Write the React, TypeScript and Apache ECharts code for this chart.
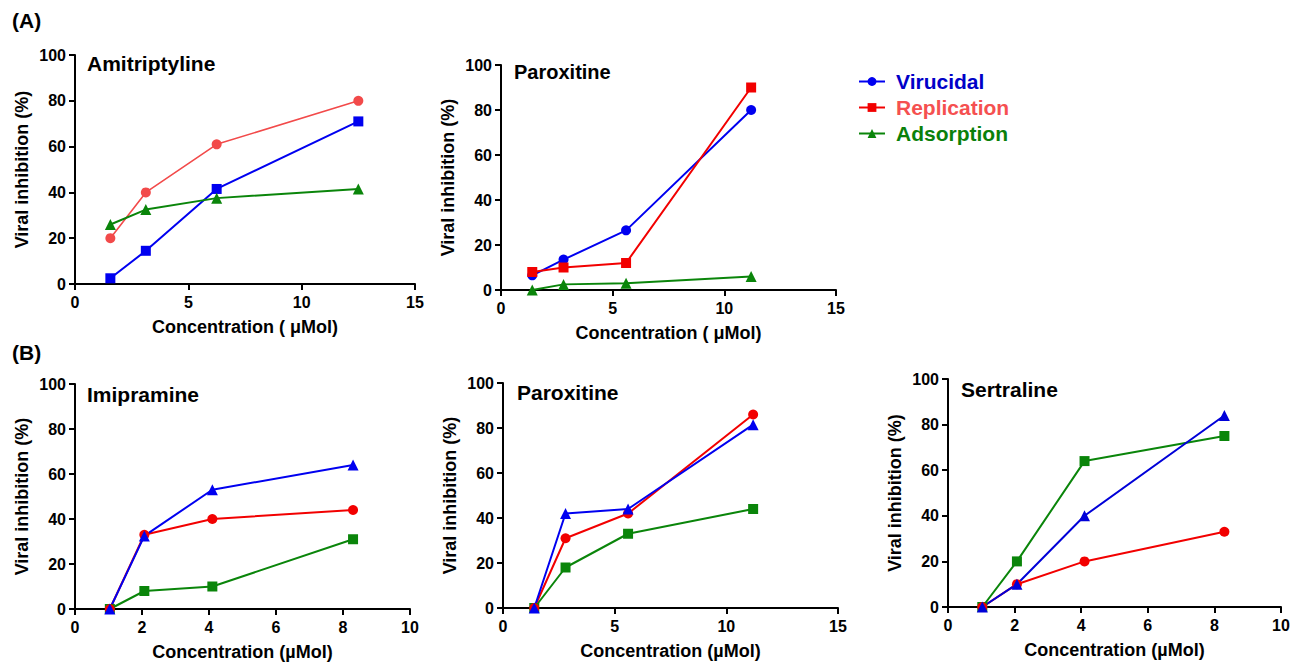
import React, { useEffect, useRef } from "react";
import * as echarts from "echarts";

// ---- Data ----
// (A) Amitriptyline
const A1_conc = [1.56, 3.125, 6.25, 12.5];
const A1_red = [20, 40, 61, 80];
const A1_blue = [2.5, 14.5, 41.5, 71];
const A1_green = [26, 32.5, 37.5, 41.5];

// (A) Paroxitine
const A2_conc = [1.4, 2.8, 5.6, 11.2];
const A2_virucidal = [6.5, 13.5, 26.5, 80];
const A2_replication = [8, 10, 12, 90];
const A2_adsorption = [0, 2.5, 3, 6];

// (B) Imipramine
const B1_conc = [1.04, 2.07, 4.1, 8.3];
const B1_blue = [0, 32.5, 53, 64];
const B1_red = [0, 33, 40, 44];
const B1_green = [0, 8, 10, 31];

// (B) Paroxitine
const B2_conc = [1.4, 2.8, 5.6, 11.2];
const B2_blue = [0, 42, 44, 81.5];
const B2_red = [0, 31, 42, 86];
const B2_green = [0, 18, 33, 44];

// (B) Sertraline
const B3_conc = [1.03, 2.07, 4.1, 8.3];
const B3_green = [0, 20, 64, 75];
const B3_blue = [0, 10, 40, 84];
const B3_red = [0, 10, 20, 33];

const legendNames = ["Virucidal", "Replication", "Adsorption"];
const panelTitles = ["Amitriptyline", "Paroxitine", "Imipramine", "Paroxitine", "Sertraline"];
const yTicks = { min: 0, max: 100, interval: 20 };

const FONT = "Liberation Sans, Arial, Helvetica, sans-serif";
const BLUE = "#0000F0";
const RED = "#F20000";
const LRED = "#F24A4A";
const GREEN = "#0A850A";

const pairs = (xs: number[], ys: number[]) => xs.map((x, i) => [x, ys[i]]);

const grids = [
  { left: 75, top: 55, width: 340, height: 229 },
  { left: 501, top: 65, width: 335, height: 225 },
  { left: 75, top: 384, width: 335, height: 225 },
  { left: 503, top: 383, width: 335, height: 225 },
  { left: 948, top: 379, width: 333, height: 228 },
];

const axisCommon = {
  axisLine: { show: true, lineStyle: { color: "#000", width: 2 } },
  axisTick: { show: true, inside: false, length: 6, lineStyle: { color: "#000", width: 2 } },
  splitLine: { show: false },
  nameTextStyle: { fontFamily: FONT, fontWeight: "bold", fontSize: 18, color: "#000" },
};

const makeX = (gi: number, max: number, interval: number, name: string) => ({
  type: "value",
  gridIndex: gi,
  min: 0,
  max,
  interval,
  name,
  nameLocation: "middle",
  nameGap: 34,
  ...axisCommon,
  axisLabel: { fontFamily: FONT, fontWeight: "bold", fontSize: 16, color: "#000", margin: 10 },
});

const makeY = (gi: number) => ({
  type: "value",
  gridIndex: gi,
  ...yTicks,
  name: "Viral inhibition (%)",
  nameLocation: "middle",
  nameGap: 44,
  ...axisCommon,
  axisLabel: { fontFamily: FONT, fontWeight: "bold", fontSize: 16, color: "#000", margin: 9 },
});

const line = (
  name: string,
  gi: number,
  xs: number[],
  ys: number[],
  color: string,
  symbol: string,
  size: number,
  width = 2
) => ({
  type: "line",
  name,
  xAxisIndex: gi,
  yAxisIndex: gi,
  data: pairs(xs, ys),
  symbol,
  symbolSize: size,
  lineStyle: { color, width },
  itemStyle: { color },
  emphasis: { disabled: true },
});

export default function App() {
  const ref = useRef<HTMLDivElement>(null);
  useEffect(() => {
    if (!ref.current) return;
    const chart = echarts.init(ref.current, undefined, { renderer: "svg" });
    const titleStyle = { fontFamily: FONT, fontWeight: "bold", fontSize: 21, color: "#000" };
    chart.setOption({
      animation: false,
      backgroundColor: "#fff",
      title: [
        { text: "(A)", left: 12, top: 10, padding: 0, textStyle: titleStyle },
        { text: "(B)", left: 12, top: 342, padding: 0, textStyle: titleStyle },
        { text: panelTitles[0], left: 87, top: 53, padding: 0, textStyle: titleStyle },
        { text: panelTitles[1], left: 514, top: 62, padding: 0, textStyle: { ...titleStyle, fontSize: 20 } },
        { text: panelTitles[2], left: 87, top: 384, padding: 0, textStyle: titleStyle },
        { text: panelTitles[3], left: 517, top: 382, padding: 0, textStyle: titleStyle },
        { text: panelTitles[4], left: 961, top: 379, padding: 0, textStyle: titleStyle },
      ],
      legend: {
        left: 858,
        top: 71,
        orient: "vertical",
        padding: 0,
        itemWidth: 26,
        itemHeight: 11,
        itemGap: 5,
        selectedMode: false,
        textStyle: { fontFamily: FONT, fontWeight: "bold", fontSize: 21, padding: [0, 0, 0, 6] },
        data: [
          { name: legendNames[0], textStyle: { color: "#0000C8" } },
          { name: legendNames[1], textStyle: { color: "#F55050" } },
          { name: legendNames[2], textStyle: { color: "#0A800A" } },
        ],
      },
      grid: grids,
      xAxis: [
        makeX(0, 15, 5, "Concentration ( \u03bcMol)"),
        makeX(1, 15, 5, "Concentration ( \u03bcMol)"),
        makeX(2, 10, 2, "Concentration (\u00b5Mol)"),
        makeX(3, 15, 5, "Concentration (\u00b5Mol)"),
        makeX(4, 10, 2, "Concentration (\u00b5Mol)"),
      ],
      yAxis: [makeY(0), makeY(1), makeY(2), makeY(3), makeY(4)],
      series: [
        line("A1 red", 0, A1_conc, A1_red, LRED, "circle", 10, 1.6),
        line("A1 blue", 0, A1_conc, A1_blue, BLUE, "rect", 10),
        line("A1 green", 0, A1_conc, A1_green, GREEN, "triangle", 11),

        line(legendNames[0], 1, A2_conc, A2_virucidal, BLUE, "circle", 10),
        line(legendNames[1], 1, A2_conc, A2_replication, RED, "rect", 10),
        line(legendNames[2], 1, A2_conc, A2_adsorption, GREEN, "triangle", 11),

        line("B1 green", 2, B1_conc, B1_green, GREEN, "rect", 10),
        line("B1 red", 2, B1_conc, B1_red, RED, "circle", 10),
        line("B1 blue", 2, B1_conc, B1_blue, BLUE, "triangle", 11),

        line("B2 green", 3, B2_conc, B2_green, GREEN, "rect", 10),
        line("B2 red", 3, B2_conc, B2_red, RED, "circle", 10),
        line("B2 blue", 3, B2_conc, B2_blue, BLUE, "triangle", 11),

        line("B3 green", 4, B3_conc, B3_green, GREEN, "rect", 10),
        line("B3 red", 4, B3_conc, B3_red, RED, "circle", 10),
        line("B3 blue", 4, B3_conc, B3_blue, "#0000D8", "triangle", 11),
      ],
    });
    return () => chart.dispose();
  }, []);
  return (
    <div
      ref={ref}
      style={{ position: "fixed", left: 0, top: 0, width: 1296, height: 662, background: "#fff" }}
    />
  );
}
